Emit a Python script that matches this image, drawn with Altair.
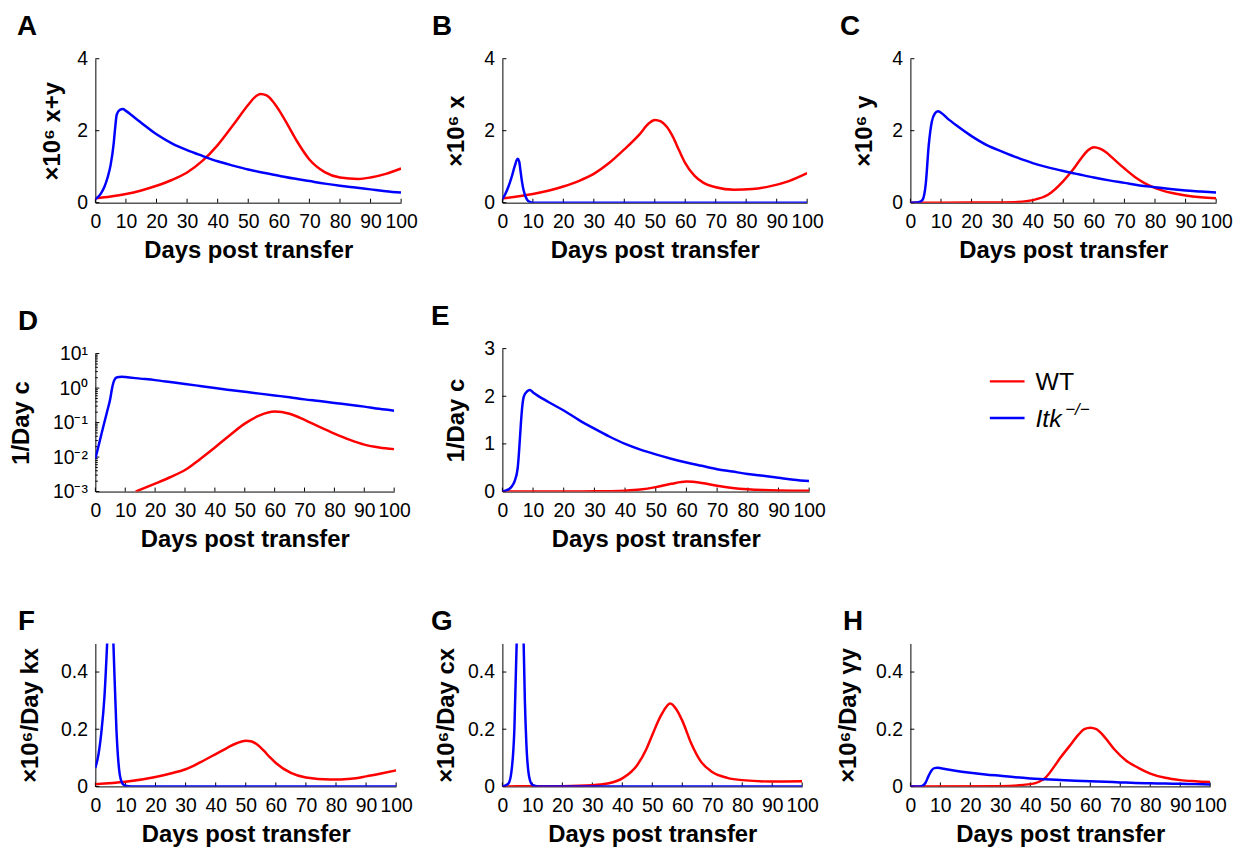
import altair as alt
import pandas as pd

FONT = "Liberation Sans"
RED = "#ff0000"
BLUE = "#0000ff"
SERIES = ["WT", "Itk"]
DAY_TICKS = list(range(0, 101, 10))
X_TITLE = "Days post transfer"

# ---- Panel A: x+y (x10^6)
XY_WT_DAY = [0, 5, 10, 15, 20, 25, 30, 35, 40, 45, 50, 52, 54, 56, 58, 60, 63, 66, 70, 75, 80, 86, 90, 95, 100]
XY_WT_VAL = [0.12, 0.17, 0.24, 0.34, 0.47, 0.63, 0.84, 1.16, 1.6, 2.15, 2.72, 2.92, 3.02, 2.98, 2.82, 2.58, 2.15, 1.7, 1.2, 0.85, 0.7, 0.66, 0.7, 0.8, 0.95]
XY_ITK_DAY = [0, 1, 2, 3, 4, 5, 6, 6.5, 7, 8, 9, 10, 12, 15, 20, 25, 30, 35, 40, 45, 50, 55, 60, 65, 70, 75, 80, 85, 90, 95, 100]
XY_ITK_VAL = [0.1, 0.17, 0.28, 0.45, 0.7, 1.05, 1.65, 2.1, 2.45, 2.58, 2.6, 2.55, 2.42, 2.22, 1.9, 1.65, 1.46, 1.3, 1.15, 1.03, 0.92, 0.83, 0.75, 0.67, 0.6, 0.53, 0.47, 0.42, 0.37, 0.32, 0.28]

# ---- Panel B: x (x10^6)
X_WT_DAY = [0, 10, 20, 25, 30, 35, 40, 45, 48, 50, 52, 54, 56, 58, 60, 63, 66, 70, 76, 82, 88, 94, 100]
X_WT_VAL = [0.12, 0.24, 0.45, 0.6, 0.8, 1.1, 1.48, 1.9, 2.2, 2.3, 2.26, 2.1, 1.82, 1.45, 1.1, 0.75, 0.55, 0.43, 0.36, 0.38, 0.46, 0.6, 0.82]
X_ITK_DAY = [0, 1, 2, 3, 4, 5, 5.5, 6, 6.5, 7, 8, 9, 10, 20, 100]
X_ITK_VAL = [0.1, 0.25, 0.45, 0.7, 1.0, 1.22, 1.15, 0.85, 0.55, 0.33, 0.1, 0.02, 0, 0, 0]

# ---- Panel C: y (x10^6)
Y_WT_DAY = [0, 20, 30, 35, 40, 45, 50, 53, 56, 58, 60, 62, 64, 66, 70, 74, 78, 82, 86, 90, 95, 100]
Y_WT_VAL = [0, 0.002, 0.008, 0.02, 0.07, 0.22, 0.6, 0.9, 1.25, 1.45, 1.54, 1.5, 1.4, 1.25, 0.95, 0.68, 0.48, 0.35, 0.26, 0.2, 0.15, 0.12]
Y_ITK_DAY = [0, 2, 3, 4, 5, 6, 7, 8, 9, 10, 12, 15, 20, 25, 30, 35, 40, 45, 50, 55, 60, 65, 70, 75, 80, 85, 90, 95, 100]
Y_ITK_VAL = [0, 0.005, 0.02, 0.08, 0.5, 1.6, 2.25, 2.48, 2.54, 2.5, 2.35, 2.15, 1.85, 1.6, 1.42, 1.25, 1.1, 0.98, 0.88, 0.79, 0.7, 0.62, 0.55, 0.48, 0.43, 0.38, 0.34, 0.31, 0.28]

# ---- Panels D/E: c (1/Day)
C_WT_DAY = [0, 5, 10, 13.5, 20, 25, 30, 35, 40, 45, 50, 55, 60, 65, 70, 75, 80, 85, 90, 95, 100]
C_WT_VAL = [0.0003, 0.0005, 0.0007, 0.001, 0.0017, 0.0026, 0.0042, 0.0087, 0.019, 0.043, 0.093, 0.162, 0.209, 0.18, 0.12, 0.075, 0.048, 0.032, 0.023, 0.019, 0.017]
C_ITK_DAY = [0, 1, 2, 3, 4, 5, 5.5, 6, 6.5, 7, 8, 9, 10, 15, 20, 25, 30, 35, 40, 45, 50, 55, 60, 65, 70, 75, 80, 85, 90, 95, 100]
C_ITK_VAL = [0.009, 0.02, 0.045, 0.1, 0.22, 0.5, 0.9, 1.4, 1.8, 2.0, 2.1, 2.13, 2.08, 1.88, 1.7, 1.5, 1.32, 1.15, 1.0, 0.88, 0.78, 0.69, 0.61, 0.54, 0.47, 0.42, 0.37, 0.33, 0.29, 0.25, 0.22]

# ---- Panel F: kx (x10^6/Day)
KX_WT_DAY = [0, 10, 20, 25, 30, 35, 40, 44, 47, 50, 52, 54, 56, 58, 60, 65, 70, 78, 85, 90, 95, 100]
KX_WT_VAL = [0.008, 0.016, 0.033, 0.045, 0.06, 0.085, 0.113, 0.136, 0.151, 0.16, 0.157, 0.145, 0.125, 0.102, 0.082, 0.047, 0.031, 0.024, 0.027, 0.035, 0.045, 0.056]
KX_ITK_DAY = [0, 1, 2, 3, 4, 5, 6, 7, 8, 9, 10, 12, 20, 100]
KX_ITK_VAL = [0.065, 0.11, 0.19, 0.31, 0.52, 0.78, 0.5, 0.2, 0.05, 0.01, 0.002, 0, 0, 0]

# ---- Panel G: cx (x10^6/Day)
CX_WT_DAY = [0, 10, 20, 30, 35, 40, 45, 48, 50, 53, 56, 58, 60, 63, 66, 70, 75, 80, 90, 100]
CX_WT_VAL = [0, 0.0005, 0.001, 0.004, 0.01, 0.028, 0.075, 0.13, 0.18, 0.25, 0.29, 0.27, 0.23, 0.15, 0.09, 0.05, 0.03, 0.022, 0.017, 0.018]
CX_ITK_DAY = [0, 2, 3, 4, 5, 6, 7, 7.5, 8, 9, 10, 12, 20, 100]
CX_ITK_VAL = [0, 0.01, 0.05, 0.2, 0.6, 1.1, 0.55, 0.3, 0.15, 0.03, 0.005, 0, 0, 0]

# ---- Panel H: gamma*y (x10^6/Day)
GY_WT_DAY = [0, 30, 40, 45, 48, 50, 53, 56, 58, 60, 62, 65, 68, 72, 76, 80, 85, 90, 95, 100]
GY_WT_VAL = [0, 0.001, 0.008, 0.03, 0.07, 0.1, 0.14, 0.18, 0.2, 0.205, 0.2, 0.17, 0.13, 0.09, 0.065, 0.045, 0.03, 0.022, 0.018, 0.015]
GY_ITK_DAY = [0, 3, 4, 5, 6, 7, 8, 9, 12, 15, 20, 25, 30, 35, 40, 45, 50, 55, 60, 65, 70, 75, 80, 85, 90, 95, 100]
GY_ITK_VAL = [0, 0, 0.002, 0.012, 0.035, 0.055, 0.064, 0.065, 0.06, 0.055, 0.048, 0.042, 0.037, 0.032, 0.028, 0.025, 0.022, 0.02, 0.018, 0.016, 0.014, 0.012, 0.011, 0.01, 0.009, 0.008, 0.007]

# axis tick values
TICKS_4 = [0, 2, 4]
TICKS_3 = [0, 1, 2, 3]
TICKS_05 = [0, 0.2, 0.4]
TICKS_LOG = [0.001, 0.01, 0.1, 1, 10]
MINOR_LOG = [m * d for d in [0.001, 0.01, 0.1, 1] for m in range(2, 10)]
LOG_LABEL_EXPR = "['10⁻³','10⁻²','10⁻¹','10⁰','10¹'][round(log(datum.value)/LN10)+3]"


def frame(wt_day, wt_val, itk_day, itk_val):
    a = pd.DataFrame({"day": wt_day, "value": wt_val, "series": "WT"})
    b = pd.DataFrame({"day": itk_day, "value": itk_val, "series": "Itk"})
    return pd.concat([a, b], ignore_index=True)


color = alt.Color("series:N", scale=alt.Scale(domain=SERIES, range=[RED, BLUE]), legend=None)


def panel(df, letter, dx, ytitle, title_x, yscale, yticks, width, height,
          min_val=None, label_expr=None, fmt=None, minor=None):
    x = alt.X("day:Q", scale=alt.Scale(domain=[0, 100], nice=False),
              axis=alt.Axis(values=DAY_TICKS, title=X_TITLE))
    axis_kw = dict(values=yticks, title=ytitle, titleX=title_x)
    if label_expr:
        axis_kw["labelExpr"] = label_expr
    if fmt:
        axis_kw["format"] = fmt
    y = alt.Y("value:Q", scale=yscale, axis=alt.Axis(**axis_kw))

    # inward tick marks (MATLAB style)
    xt = alt.Chart(pd.DataFrame({"day": DAY_TICKS})).mark_rule(color="black", strokeWidth=1).encode(
        x=x, y=alt.value(height), y2=alt.value(height - 4))
    yt = alt.Chart(pd.DataFrame({"value": yticks})).mark_rule(color="black", strokeWidth=1).encode(
        y=y, x=alt.value(0), x2=alt.value(4))
    layers = [xt, yt]
    if minor:
        layers.append(alt.Chart(pd.DataFrame({"value": minor})).mark_rule(color="black", strokeWidth=1).encode(
            y=y, x=alt.value(0), x2=alt.value(2.5)))
    for s in SERIES:
        base = alt.Chart(df).transform_filter(alt.datum.series == s)
        if min_val is not None:
            base = base.transform_filter(alt.datum.value >= min_val)
        layers.append(base.mark_line(clip=True, strokeWidth=2.5, interpolate="monotone")
                      .encode(x=x, y=y, color=color))
    return alt.layer(*layers).properties(
        width=width, height=height,
        title=alt.TitleParams(letter, anchor="start", frame="group", dx=dx, offset=8,
                              fontSize=28, fontWeight="bold", font=FONT, color="black"),
    )


lin4 = alt.Scale(domain=[0, 4], nice=False)
lin3 = alt.Scale(domain=[0, 3], nice=False)
lin05 = alt.Scale(domain=[0, 0.5], nice=False)
logsc = alt.Scale(type="log", domain=[0.001, 10], nice=False, range=[144, 5])

dfA = frame(XY_WT_DAY, XY_WT_VAL, XY_ITK_DAY, XY_ITK_VAL)
dfB = frame(X_WT_DAY, X_WT_VAL, X_ITK_DAY, X_ITK_VAL)
dfC = frame(Y_WT_DAY, Y_WT_VAL, Y_ITK_DAY, Y_ITK_VAL)
dfCc = frame(C_WT_DAY, C_WT_VAL, C_ITK_DAY, C_ITK_VAL)
dfF = frame(KX_WT_DAY, KX_WT_VAL, KX_ITK_DAY, KX_ITK_VAL)
dfG = frame(CX_WT_DAY, CX_WT_VAL, CX_ITK_DAY, CX_ITK_VAL)
dfH = frame(GY_WT_DAY, GY_WT_VAL, GY_ITK_DAY, GY_ITK_VAL)

pA = panel(dfA, "A", -79, "×10⁶ x+y", -31, lin4, TICKS_4, 308, 145)
pB = panel(dfB, "B", -71, "×10⁶ x", -34, lin4, TICKS_4, 307, 145)
pC = panel(dfC, "C", -71, "×10⁶ y", -34, lin4, TICKS_4, 308, 145)
pD = panel(dfCc, "D", -78, "1/Day c", -62, logsc, TICKS_LOG, 301, 144, min_val=0.001,
           label_expr=LOG_LABEL_EXPR, minor=MINOR_LOG)
pE = panel(dfCc, "E", -72, "1/Day c", -34, lin3, TICKS_3, 309, 144)
pF = panel(dfF, "F", -78, "×10⁶/Day kx", -53, lin05, TICKS_05, 303, 144, fmt="~g")
pG = panel(dfG, "G", -72, "×10⁶/Day cx", -44, lin05, TICKS_05, 302, 144, fmt="~g")
pH = panel(dfH, "H", -68, "×10⁶/Day γy", -50, lin05, TICKS_05, 302, 144, fmt="~g")

# ---- legend cell
leg_df = pd.DataFrame({"series": SERIES})
leg_y = alt.Y("series:N", scale=alt.Scale(type="point", domain=SERIES, range=[33, 70], padding=0), axis=None)
leg_base = alt.Chart(leg_df)
leg_lines = leg_base.mark_rule(strokeWidth=2.5).encode(
    x=alt.value(80), x2=alt.value(115), y=leg_y, color=color)
leg_wt = leg_base.transform_filter(alt.datum.series == "WT").mark_text(
    align="left", baseline="middle", font=FONT, fontSize=25, color="black", dy=1
).encode(x=alt.value(126), y=leg_y, text="series:N")
leg_itk = leg_base.transform_filter(alt.datum.series == "Itk").mark_text(
    align="left", baseline="middle", font=FONT, fontSize=25, fontStyle="italic", color="black", dy=1
).encode(x=alt.value(126), y=leg_y, text="series:N")
leg_sup = leg_base.transform_filter(alt.datum.series == "Itk").mark_text(
    align="left", baseline="middle", font=FONT, fontSize=17, fontStyle="italic", color="black", dx=30, dy=-8
).encode(x=alt.value(126), y=leg_y, text=alt.value("−/−"))
legend = alt.layer(leg_lines, leg_wt, leg_itk, leg_sup).properties(width=300, height=150)

chart = alt.concat(
    pA, pB, pC, pD, pE, legend, pF, pG, pH,
    columns=3, spacing={"row": 147, "column": 102}, bounds="flush",
).properties(
    padding={"left": 2, "top": 2, "right": 5, "bottom": 5},
    background="white",
).configure_view(stroke=None).configure_axis(
    domainColor="black", domainWidth=1, grid=False, ticks=False,
    labelFont=FONT, labelFontSize=19.5, labelColor="black",
    labelFlush=False, labelOverlap=False, labelBound=False,
    titleFont=FONT, titleFontSize=24, titleFontWeight="bold", titleColor="black",
).configure_axisX(labelPadding=10, titlePadding=8).configure_axisY(labelPadding=8)

chart.save("out.html", embed_options={"renderer": "svg", "actions": False})
